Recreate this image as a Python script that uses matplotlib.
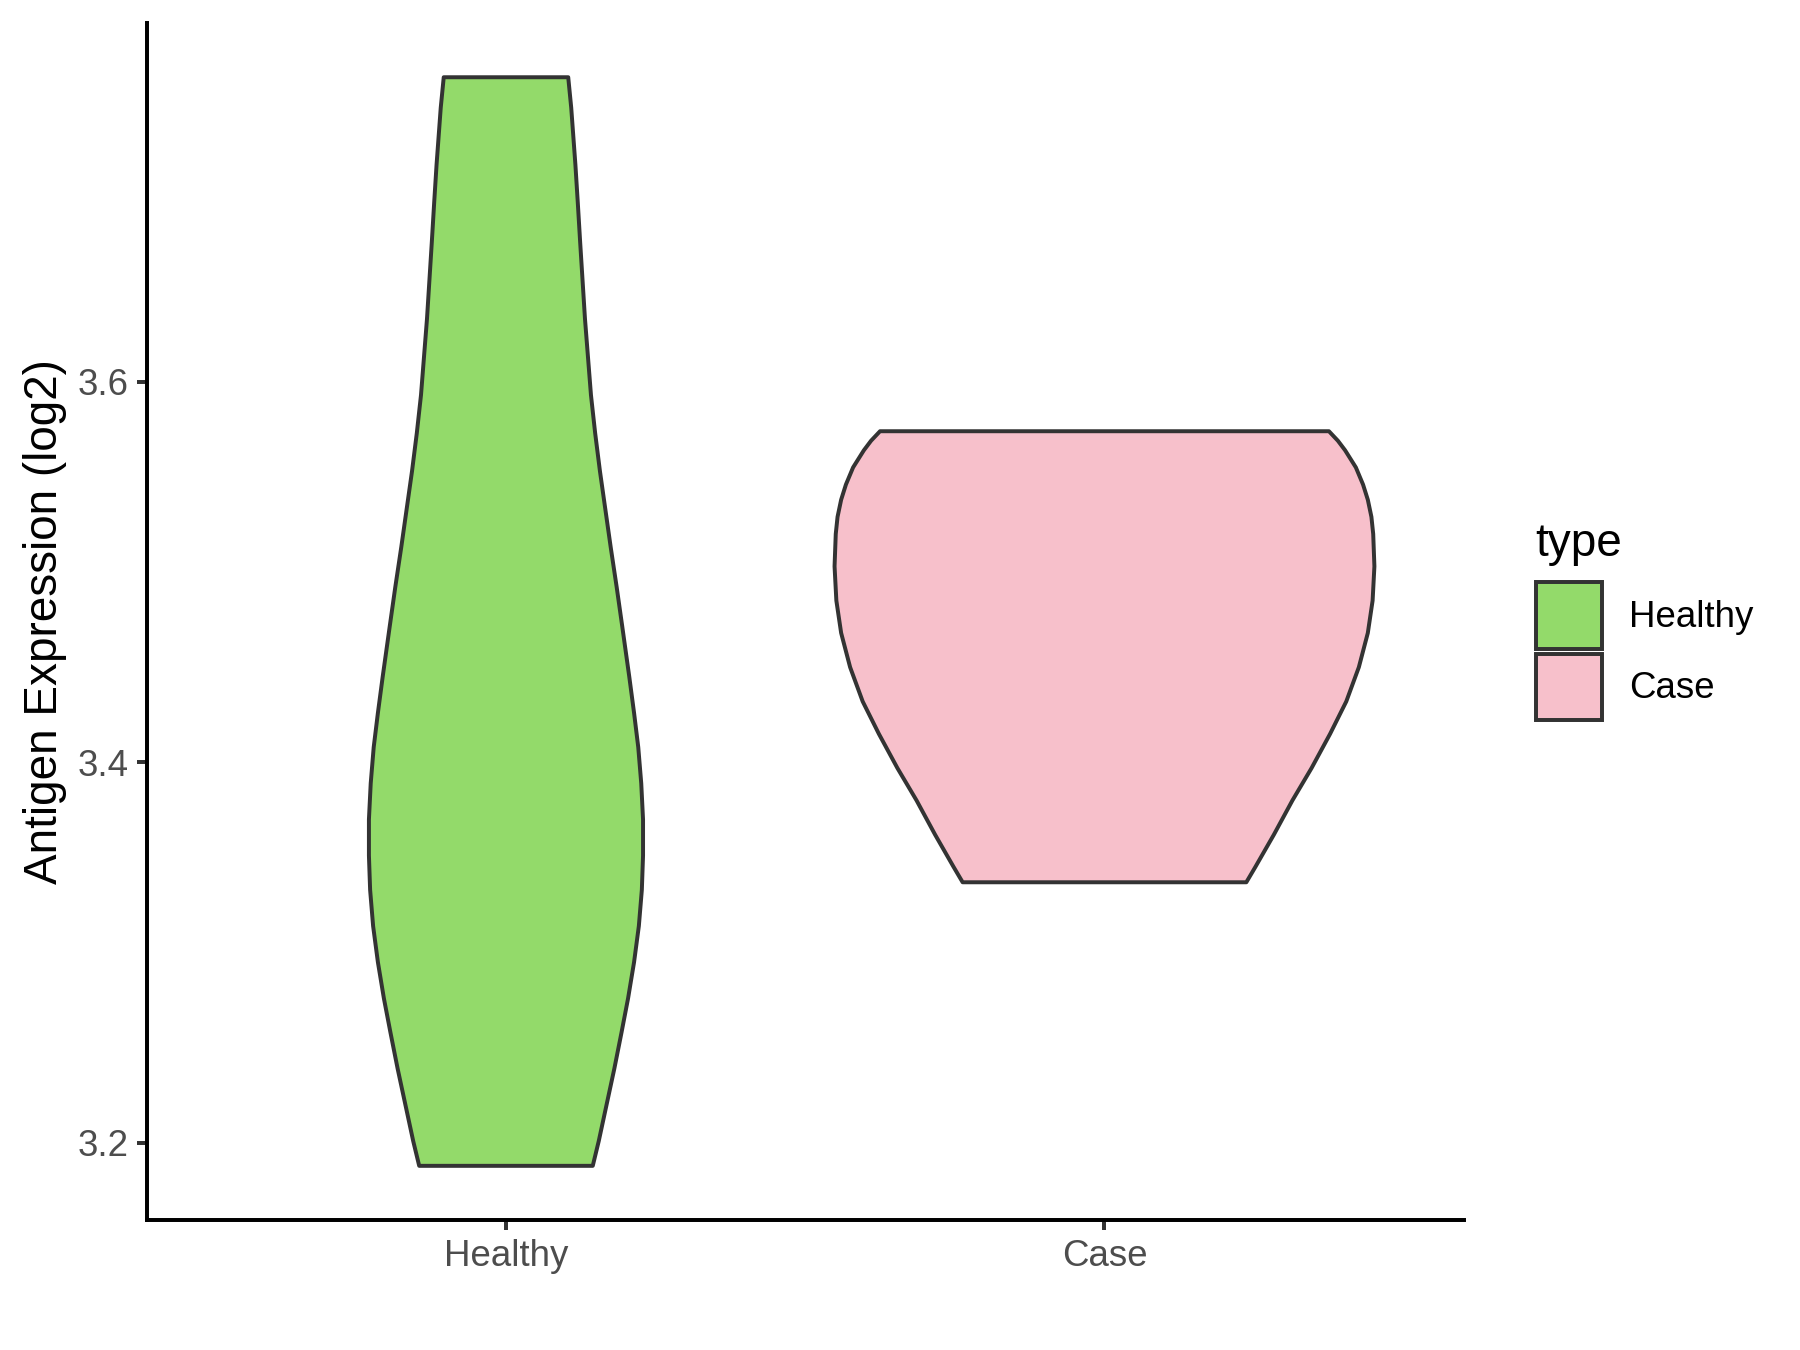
import numpy as np
import matplotlib.pyplot as plt
from matplotlib.patches import Patch

plt.rcParams['font.family'] = ['Liberation Sans', 'DejaVu Sans']

# categories and colours
groups = ['Healthy', 'Case']
fills = ['#93DA6A', '#F7C0CB']

# violin outlines: expression level and half width (in x units)
healthy_y = [3.760, 3.744, 3.714, 3.694, 3.673, 3.653, 3.633, 3.613, 3.593, 3.573,
             3.553, 3.533, 3.513, 3.492, 3.472, 3.445, 3.426, 3.408, 3.389,
             3.370, 3.351, 3.333, 3.314, 3.295, 3.276, 3.258, 3.239, 3.220, 3.201, 3.188]
healthy_w = [0.104, 0.109, 0.116, 0.120, 0.124, 0.128, 0.132, 0.137, 0.142, 0.149,
             0.157, 0.166, 0.175, 0.185, 0.194, 0.206, 0.214, 0.221, 0.226,
             0.229, 0.229, 0.227, 0.222, 0.214, 0.204, 0.193, 0.181, 0.168, 0.155, 0.145]

case_y = [3.574, 3.569, 3.564, 3.555, 3.546, 3.538, 3.529, 3.520, 3.503, 3.485, 3.468,
          3.450, 3.432, 3.415, 3.397, 3.380, 3.362, 3.345, 3.337]
case_w = [0.375, 0.390, 0.402, 0.420, 0.432, 0.440, 0.446, 0.449, 0.451, 0.448, 0.440,
          0.425, 0.404, 0.377, 0.346, 0.314, 0.283, 0.252, 0.237]

yticks = [3.2, 3.4, 3.6]
ylabel = 'Antigen Expression (log2)'

fig = plt.figure(figsize=(12, 9), dpi=150)
ax = fig.add_axes([0.0816, 0.0961, 0.7315, 0.887])

profiles = [(healthy_y, healthy_w), (case_y, case_w)]
for i, (yy, ww) in enumerate(profiles):
    pos = i + 1
    yy = np.array(yy)
    ww = np.array(ww)
    xs = np.concatenate([pos - ww, (pos + ww)[::-1]])
    ys = np.concatenate([yy, yy[::-1]])
    ax.fill(xs, ys, facecolor=fills[i], edgecolor='#333333', linewidth=1.9,
            joinstyle='round')

# ggplot style expansion of the y range
lo = min(min(healthy_y), min(case_y))
hi = max(max(healthy_y), max(case_y))
pad = 0.05 * (hi - lo)
ax.set_ylim(lo - pad, hi + pad)
ax.set_xlim(0.4, 2.6)

ax.set_xticks([1, 2])
ax.set_xticklabels(groups)
ax.set_yticks(yticks)
ax.set_yticklabels([str(t) for t in yticks])
ax.tick_params(axis='both', labelsize=17.6, labelcolor='#4D4D4D', color='#333333',
               length=4.8, width=1.9, pad=4)

for side in ['top', 'right']:
    ax.spines[side].set_visible(False)
for side in ['left', 'bottom']:
    ax.spines[side].set_linewidth(1.9)
    ax.spines[side].set_color('black')

ax.set_ylabel(ylabel, fontsize=22, labelpad=5)

handles = [Patch(facecolor=fills[i], edgecolor='#333333', linewidth=1.9, label=groups[i])
           for i in range(2)]
leg = fig.legend(handles=handles, title='type', loc='center left',
                 bbox_to_anchor=(0.845, 0.54), frameon=False, fontsize=17.6,
                 title_fontsize=22, handlelength=1.82, handleheight=2.4,
                 labelspacing=0.15, handletextpad=0.72, borderaxespad=0)
leg._legend_box.align = 'left'
leg._legend_box.sep = 8  # extra room under the title

fig.savefig('out.png', dpi=150)
